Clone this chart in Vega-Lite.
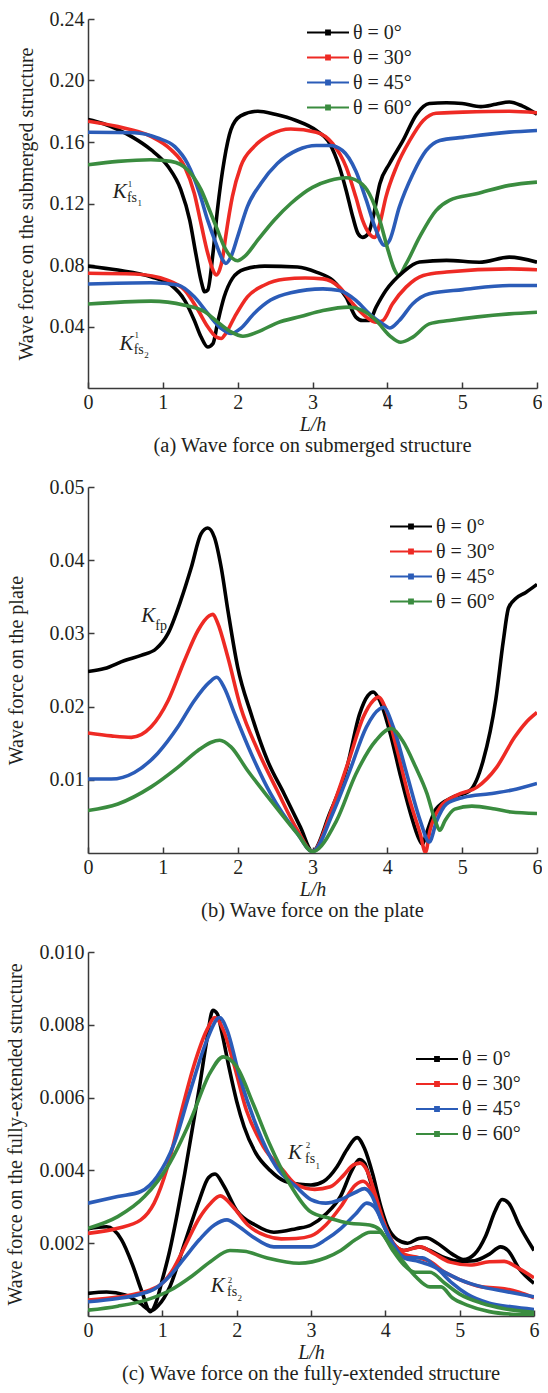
{
"$schema":"https://vega.github.io/schema/vega-lite/v6.json",
"background":"white",
"padding":{"left":5,"top":9,"right":0,"bottom":0},
"spacing":20,
"config":{
 "font":"Liberation Serif",
 "view":{"stroke":null},
 "axis":{"labelFont":"Liberation Serif","labelFontSize":20,"labelColor":"#231f20","titleFont":"Liberation Serif","titleFontSize":20,"titleFontWeight":"normal","titleColor":"#231f20","domainColor":"#3a3a3a","domainWidth":1.5,"tickColor":"#3a3a3a","tickWidth":1.5,"tickSize":-6,"grid":false,"labelPadding":10,"labelFlush":false},
 "legend":{"labelFont":"Liberation Serif","labelFontSize":20,"labelColor":"#231f20","symbolSize":400,"symbolStrokeWidth":1.8,"rowPadding":4.0,"labelOffset":14,"padding":0,"orient":"none"},
 "title":{"font":"Liberation Serif","fontSize":20.5,"fontWeight":"normal","color":"#231f20"}
},
"resolve":{"scale":{"color":"independent"},"legend":{"color":"independent"}},
"datasets":{
"a":[
{"L":0,"F":0.1746,"t":"θ = 0°","c":"1"},{"L":0.2,"F":0.172,"t":"θ = 0°","c":"1"},{"L":0.4,"F":0.168,"t":"θ = 0°","c":"1"},{"L":0.6,"F":0.163,"t":"θ = 0°","c":"1"},{"L":0.84,"F":0.155,"t":"θ = 0°","c":"1"},{"L":1.07,"F":0.144,"t":"θ = 0°","c":"1"},{"L":1.24,"F":0.129,"t":"θ = 0°","c":"1"},{"L":1.36,"F":0.109,"t":"θ = 0°","c":"1"},{"L":1.44,"F":0.0876,"t":"θ = 0°","c":"1"},{"L":1.51,"F":0.07,"t":"θ = 0°","c":"1"},{"L":1.56,"F":0.0626,"t":"θ = 0°","c":"1"},{"L":1.6,"F":0.0637,"t":"θ = 0°","c":"1"},{"L":1.67,"F":0.0876,"t":"θ = 0°","c":"1"},{"L":1.73,"F":0.116,"t":"θ = 0°","c":"1"},{"L":1.82,"F":0.148,"t":"θ = 0°","c":"1"},{"L":1.91,"F":0.168,"t":"θ = 0°","c":"1"},{"L":2.04,"F":0.177,"t":"θ = 0°","c":"1"},{"L":2.27,"F":0.18,"t":"θ = 0°","c":"1"},{"L":2.5,"F":0.178,"t":"θ = 0°","c":"1"},{"L":2.78,"F":0.174,"t":"θ = 0°","c":"1"},{"L":3.05,"F":0.1675,"t":"θ = 0°","c":"1"},{"L":3.23,"F":0.159,"t":"θ = 0°","c":"1"},{"L":3.36,"F":0.1437,"t":"θ = 0°","c":"1"},{"L":3.45,"F":0.1285,"t":"θ = 0°","c":"1"},{"L":3.54,"F":0.111,"t":"θ = 0°","c":"1"},{"L":3.61,"F":0.1003,"t":"θ = 0°","c":"1"},{"L":3.67,"F":0.098,"t":"θ = 0°","c":"1"},{"L":3.74,"F":0.1,"t":"θ = 0°","c":"1"},{"L":3.81,"F":0.111,"t":"θ = 0°","c":"1"},{"L":3.9,"F":0.1328,"t":"θ = 0°","c":"1"},{"L":4.03,"F":0.146,"t":"θ = 0°","c":"1"},{"L":4.21,"F":0.161,"t":"θ = 0°","c":"1"},{"L":4.39,"F":0.178,"t":"θ = 0°","c":"1"},{"L":4.56,"F":0.185,"t":"θ = 0°","c":"1"},{"L":4.79,"F":0.1855,"t":"θ = 0°","c":"1"},{"L":5.0,"F":0.185,"t":"θ = 0°","c":"1"},{"L":5.25,"F":0.183,"t":"θ = 0°","c":"1"},{"L":5.45,"F":0.1845,"t":"θ = 0°","c":"1"},{"L":5.63,"F":0.186,"t":"θ = 0°","c":"1"},{"L":5.8,"F":0.1835,"t":"θ = 0°","c":"1"},{"L":6,"F":0.178,"t":"θ = 0°","c":"1"},
{"L":0,"F":0.1735,"t":"θ = 30°","c":"1"},{"L":0.4,"F":0.17,"t":"θ = 30°","c":"1"},{"L":0.84,"F":0.1637,"t":"θ = 30°","c":"1"},{"L":1.11,"F":0.155,"t":"θ = 30°","c":"1"},{"L":1.29,"F":0.144,"t":"θ = 30°","c":"1"},{"L":1.42,"F":0.1267,"t":"θ = 30°","c":"1"},{"L":1.51,"F":0.107,"t":"θ = 30°","c":"1"},{"L":1.6,"F":0.0876,"t":"θ = 30°","c":"1"},{"L":1.67,"F":0.0767,"t":"θ = 30°","c":"1"},{"L":1.71,"F":0.0735,"t":"θ = 30°","c":"1"},{"L":1.76,"F":0.077,"t":"θ = 30°","c":"1"},{"L":1.8,"F":0.085,"t":"θ = 30°","c":"1"},{"L":1.84,"F":0.0985,"t":"θ = 30°","c":"1"},{"L":1.93,"F":0.1246,"t":"θ = 30°","c":"1"},{"L":2.04,"F":0.144,"t":"θ = 30°","c":"1"},{"L":2.22,"F":0.157,"t":"θ = 30°","c":"1"},{"L":2.44,"F":0.165,"t":"θ = 30°","c":"1"},{"L":2.71,"F":0.1685,"t":"θ = 30°","c":"1"},{"L":3.05,"F":0.1664,"t":"θ = 30°","c":"1"},{"L":3.27,"F":0.159,"t":"θ = 30°","c":"1"},{"L":3.45,"F":0.1437,"t":"θ = 30°","c":"1"},{"L":3.58,"F":0.124,"t":"θ = 30°","c":"1"},{"L":3.67,"F":0.109,"t":"θ = 30°","c":"1"},{"L":3.76,"F":0.1003,"t":"θ = 30°","c":"1"},{"L":3.83,"F":0.098,"t":"θ = 30°","c":"1"},{"L":3.9,"F":0.107,"t":"θ = 30°","c":"1"},{"L":3.98,"F":0.124,"t":"θ = 30°","c":"1"},{"L":4.12,"F":0.1437,"t":"θ = 30°","c":"1"},{"L":4.3,"F":0.161,"t":"θ = 30°","c":"1"},{"L":4.48,"F":0.174,"t":"θ = 30°","c":"1"},{"L":4.65,"F":0.1787,"t":"θ = 30°","c":"1"},{"L":5.01,"F":0.1794,"t":"θ = 30°","c":"1"},{"L":5.63,"F":0.18,"t":"θ = 30°","c":"1"},{"L":6,"F":0.179,"t":"θ = 30°","c":"1"},
{"L":0,"F":0.1663,"t":"θ = 45°","c":"1"},{"L":0.62,"F":0.166,"t":"θ = 45°","c":"1"},{"L":0.93,"F":0.1626,"t":"θ = 45°","c":"1"},{"L":1.16,"F":0.157,"t":"θ = 45°","c":"1"},{"L":1.33,"F":0.146,"t":"θ = 45°","c":"1"},{"L":1.49,"F":0.1267,"t":"θ = 45°","c":"1"},{"L":1.6,"F":0.109,"t":"θ = 45°","c":"1"},{"L":1.71,"F":0.094,"t":"θ = 45°","c":"1"},{"L":1.8,"F":0.0833,"t":"θ = 45°","c":"1"},{"L":1.84,"F":0.081,"t":"θ = 45°","c":"1"},{"L":1.91,"F":0.0854,"t":"θ = 45°","c":"1"},{"L":2.0,"F":0.0985,"t":"θ = 45°","c":"1"},{"L":2.13,"F":0.118,"t":"θ = 45°","c":"1"},{"L":2.31,"F":0.133,"t":"θ = 45°","c":"1"},{"L":2.53,"F":0.146,"t":"θ = 45°","c":"1"},{"L":2.8,"F":0.1548,"t":"θ = 45°","c":"1"},{"L":3.05,"F":0.1577,"t":"θ = 45°","c":"1"},{"L":3.23,"F":0.1577,"t":"θ = 45°","c":"1"},{"L":3.4,"F":0.1545,"t":"θ = 45°","c":"1"},{"L":3.58,"F":0.141,"t":"θ = 45°","c":"1"},{"L":3.72,"F":0.122,"t":"θ = 45°","c":"1"},{"L":3.85,"F":0.1025,"t":"θ = 45°","c":"1"},{"L":3.96,"F":0.0928,"t":"θ = 45°","c":"1"},{"L":4.03,"F":0.096,"t":"θ = 45°","c":"1"},{"L":4.16,"F":0.1176,"t":"θ = 45°","c":"1"},{"L":4.34,"F":0.139,"t":"θ = 45°","c":"1"},{"L":4.52,"F":0.1545,"t":"θ = 45°","c":"1"},{"L":4.7,"F":0.161,"t":"θ = 45°","c":"1"},{"L":5.01,"F":0.163,"t":"θ = 45°","c":"1"},{"L":5.63,"F":0.1664,"t":"θ = 45°","c":"1"},{"L":6,"F":0.1675,"t":"θ = 45°","c":"1"},
{"L":0,"F":0.1452,"t":"θ = 60°","c":"1"},{"L":0.4,"F":0.1474,"t":"θ = 60°","c":"1"},{"L":0.84,"F":0.1485,"t":"θ = 60°","c":"1"},{"L":1.11,"F":0.1474,"t":"θ = 60°","c":"1"},{"L":1.33,"F":0.142,"t":"θ = 60°","c":"1"},{"L":1.51,"F":0.129,"t":"θ = 60°","c":"1"},{"L":1.64,"F":0.1137,"t":"θ = 60°","c":"1"},{"L":1.73,"F":0.1028,"t":"θ = 60°","c":"1"},{"L":1.82,"F":0.092,"t":"θ = 60°","c":"1"},{"L":1.93,"F":0.0843,"t":"θ = 60°","c":"1"},{"L":2.0,"F":0.0828,"t":"θ = 60°","c":"1"},{"L":2.09,"F":0.0854,"t":"θ = 60°","c":"1"},{"L":2.27,"F":0.0963,"t":"θ = 60°","c":"1"},{"L":2.49,"F":0.1093,"t":"θ = 60°","c":"1"},{"L":2.71,"F":0.12,"t":"θ = 60°","c":"1"},{"L":3.0,"F":0.1305,"t":"θ = 60°","c":"1"},{"L":3.23,"F":0.1349,"t":"θ = 60°","c":"1"},{"L":3.45,"F":0.1367,"t":"θ = 60°","c":"1"},{"L":3.63,"F":0.1338,"t":"θ = 60°","c":"1"},{"L":3.76,"F":0.1263,"t":"θ = 60°","c":"1"},{"L":3.9,"F":0.1089,"t":"θ = 60°","c":"1"},{"L":4.01,"F":0.0895,"t":"θ = 60°","c":"1"},{"L":4.1,"F":0.0765,"t":"θ = 60°","c":"1"},{"L":4.15,"F":0.0732,"t":"θ = 60°","c":"1"},{"L":4.25,"F":0.0807,"t":"θ = 60°","c":"1"},{"L":4.43,"F":0.0981,"t":"θ = 60°","c":"1"},{"L":4.65,"F":0.1154,"t":"θ = 60°","c":"1"},{"L":4.83,"F":0.122,"t":"θ = 60°","c":"1"},{"L":5.19,"F":0.1263,"t":"θ = 60°","c":"1"},{"L":5.63,"F":0.1318,"t":"θ = 60°","c":"1"},{"L":6,"F":0.1339,"t":"θ = 60°","c":"1"},
{"L":0,"F":0.0793,"t":"θ = 0°","c":"2"},{"L":0.4,"F":0.0767,"t":"θ = 0°","c":"2"},{"L":0.84,"F":0.0724,"t":"θ = 0°","c":"2"},{"L":1.11,"F":0.067,"t":"θ = 0°","c":"2"},{"L":1.29,"F":0.0572,"t":"θ = 0°","c":"2"},{"L":1.42,"F":0.0441,"t":"θ = 0°","c":"2"},{"L":1.51,"F":0.0333,"t":"θ = 0°","c":"2"},{"L":1.6,"F":0.0267,"t":"θ = 0°","c":"2"},{"L":1.67,"F":0.0289,"t":"θ = 0°","c":"2"},{"L":1.73,"F":0.042,"t":"θ = 0°","c":"2"},{"L":1.82,"F":0.0593,"t":"θ = 0°","c":"2"},{"L":1.93,"F":0.0713,"t":"θ = 0°","c":"2"},{"L":2.09,"F":0.0772,"t":"θ = 0°","c":"2"},{"L":2.36,"F":0.0793,"t":"θ = 0°","c":"2"},{"L":2.8,"F":0.0787,"t":"θ = 0°","c":"2"},{"L":3.05,"F":0.0754,"t":"θ = 0°","c":"2"},{"L":3.27,"F":0.07,"t":"θ = 0°","c":"2"},{"L":3.45,"F":0.059,"t":"θ = 0°","c":"2"},{"L":3.58,"F":0.0461,"t":"θ = 0°","c":"2"},{"L":3.67,"F":0.0439,"t":"θ = 0°","c":"2"},{"L":3.76,"F":0.0439,"t":"θ = 0°","c":"2"},{"L":3.85,"F":0.0526,"t":"θ = 0°","c":"2"},{"L":3.98,"F":0.0634,"t":"θ = 0°","c":"2"},{"L":4.21,"F":0.0754,"t":"θ = 0°","c":"2"},{"L":4.43,"F":0.0819,"t":"θ = 0°","c":"2"},{"L":4.79,"F":0.083,"t":"θ = 0°","c":"2"},{"L":5.23,"F":0.0818,"t":"θ = 0°","c":"2"},{"L":5.63,"F":0.0851,"t":"θ = 0°","c":"2"},{"L":6,"F":0.0818,"t":"θ = 0°","c":"2"},
{"L":0,"F":0.0746,"t":"θ = 30°","c":"2"},{"L":0.62,"F":0.0741,"t":"θ = 30°","c":"2"},{"L":1.07,"F":0.07,"t":"θ = 30°","c":"2"},{"L":1.29,"F":0.0637,"t":"θ = 30°","c":"2"},{"L":1.47,"F":0.0507,"t":"θ = 30°","c":"2"},{"L":1.6,"F":0.0398,"t":"θ = 30°","c":"2"},{"L":1.71,"F":0.0333,"t":"θ = 30°","c":"2"},{"L":1.78,"F":0.0322,"t":"θ = 30°","c":"2"},{"L":1.84,"F":0.0354,"t":"θ = 30°","c":"2"},{"L":1.96,"F":0.0463,"t":"θ = 30°","c":"2"},{"L":2.13,"F":0.0593,"t":"θ = 30°","c":"2"},{"L":2.36,"F":0.067,"t":"θ = 30°","c":"2"},{"L":2.62,"F":0.0707,"t":"θ = 30°","c":"2"},{"L":2.9,"F":0.0715,"t":"θ = 30°","c":"2"},{"L":3.14,"F":0.071,"t":"θ = 30°","c":"2"},{"L":3.36,"F":0.0656,"t":"θ = 30°","c":"2"},{"L":3.54,"F":0.0548,"t":"θ = 30°","c":"2"},{"L":3.72,"F":0.0461,"t":"θ = 30°","c":"2"},{"L":3.85,"F":0.0428,"t":"θ = 30°","c":"2"},{"L":3.94,"F":0.0439,"t":"θ = 30°","c":"2"},{"L":4.07,"F":0.0548,"t":"θ = 30°","c":"2"},{"L":4.25,"F":0.0656,"t":"θ = 30°","c":"2"},{"L":4.48,"F":0.0732,"t":"θ = 30°","c":"2"},{"L":4.79,"F":0.0754,"t":"θ = 30°","c":"2"},{"L":5.63,"F":0.0775,"t":"θ = 30°","c":"2"},{"L":6,"F":0.0769,"t":"θ = 30°","c":"2"},
{"L":0,"F":0.0676,"t":"θ = 45°","c":"2"},{"L":0.84,"F":0.0685,"t":"θ = 45°","c":"2"},{"L":1.2,"F":0.067,"t":"θ = 45°","c":"2"},{"L":1.42,"F":0.0593,"t":"θ = 45°","c":"2"},{"L":1.6,"F":0.0485,"t":"θ = 45°","c":"2"},{"L":1.78,"F":0.0387,"t":"θ = 45°","c":"2"},{"L":1.91,"F":0.0354,"t":"θ = 45°","c":"2"},{"L":2.04,"F":0.0387,"t":"θ = 45°","c":"2"},{"L":2.22,"F":0.0485,"t":"θ = 45°","c":"2"},{"L":2.44,"F":0.0572,"t":"θ = 45°","c":"2"},{"L":2.71,"F":0.062,"t":"θ = 45°","c":"2"},{"L":3.14,"F":0.0645,"t":"θ = 45°","c":"2"},{"L":3.36,"F":0.0634,"t":"θ = 45°","c":"2"},{"L":3.58,"F":0.057,"t":"θ = 45°","c":"2"},{"L":3.76,"F":0.0483,"t":"θ = 45°","c":"2"},{"L":3.94,"F":0.0417,"t":"θ = 45°","c":"2"},{"L":4.03,"F":0.039,"t":"θ = 45°","c":"2"},{"L":4.16,"F":0.0439,"t":"θ = 45°","c":"2"},{"L":4.34,"F":0.0548,"t":"θ = 45°","c":"2"},{"L":4.56,"F":0.0613,"t":"θ = 45°","c":"2"},{"L":5.01,"F":0.064,"t":"θ = 45°","c":"2"},{"L":5.63,"F":0.0667,"t":"θ = 45°","c":"2"},{"L":6,"F":0.0667,"t":"θ = 45°","c":"2"},
{"L":0,"F":0.0546,"t":"θ = 60°","c":"2"},{"L":0.84,"F":0.0565,"t":"θ = 60°","c":"2"},{"L":1.29,"F":0.0539,"t":"θ = 60°","c":"2"},{"L":1.56,"F":0.0496,"t":"θ = 60°","c":"2"},{"L":1.73,"F":0.043,"t":"θ = 60°","c":"2"},{"L":1.91,"F":0.0365,"t":"θ = 60°","c":"2"},{"L":2.07,"F":0.0337,"t":"θ = 60°","c":"2"},{"L":2.27,"F":0.0365,"t":"θ = 60°","c":"2"},{"L":2.53,"F":0.0424,"t":"θ = 60°","c":"2"},{"L":2.84,"F":0.0465,"t":"θ = 60°","c":"2"},{"L":3.14,"F":0.0504,"t":"θ = 60°","c":"2"},{"L":3.49,"F":0.0526,"t":"θ = 60°","c":"2"},{"L":3.67,"F":0.0504,"t":"θ = 60°","c":"2"},{"L":3.85,"F":0.0439,"t":"θ = 60°","c":"2"},{"L":4.03,"F":0.0341,"t":"θ = 60°","c":"2"},{"L":4.18,"F":0.0298,"t":"θ = 60°","c":"2"},{"L":4.34,"F":0.0331,"t":"θ = 60°","c":"2"},{"L":4.56,"F":0.0417,"t":"θ = 60°","c":"2"},{"L":4.83,"F":0.0439,"t":"θ = 60°","c":"2"},{"L":5.63,"F":0.0482,"t":"θ = 60°","c":"2"},{"L":6,"F":0.0493,"t":"θ = 60°","c":"2"}
],
"b":[
{"L":0,"F":0.0248,"t":"θ = 0°"},{"L":0.22,"F":0.0252,"t":"θ = 0°"},{"L":0.49,"F":0.0263,"t":"θ = 0°"},{"L":0.71,"F":0.027,"t":"θ = 0°"},{"L":0.91,"F":0.0279,"t":"θ = 0°"},{"L":1.07,"F":0.03,"t":"θ = 0°"},{"L":1.24,"F":0.0345,"t":"θ = 0°"},{"L":1.38,"F":0.039,"t":"θ = 0°"},{"L":1.51,"F":0.0436,"t":"θ = 0°"},{"L":1.6,"F":0.0444,"t":"θ = 0°"},{"L":1.69,"F":0.0431,"t":"θ = 0°"},{"L":1.78,"F":0.039,"t":"θ = 0°"},{"L":1.87,"F":0.0331,"t":"θ = 0°"},{"L":2.0,"F":0.0254,"t":"θ = 0°"},{"L":2.18,"F":0.019,"t":"θ = 0°"},{"L":2.4,"F":0.0126,"t":"θ = 0°"},{"L":2.62,"F":0.0081,"t":"θ = 0°"},{"L":2.84,"F":0.0035,"t":"θ = 0°"},{"L":3.0,"F":0.0002,"t":"θ = 0°"},{"L":3.23,"F":0.0054,"t":"θ = 0°"},{"L":3.46,"F":0.0117,"t":"θ = 0°"},{"L":3.63,"F":0.019,"t":"θ = 0°"},{"L":3.74,"F":0.0215,"t":"θ = 0°"},{"L":3.81,"F":0.022,"t":"θ = 0°"},{"L":3.9,"F":0.0208,"t":"θ = 0°"},{"L":4.04,"F":0.0163,"t":"θ = 0°"},{"L":4.17,"F":0.0108,"t":"θ = 0°"},{"L":4.31,"F":0.0054,"t":"θ = 0°"},{"L":4.42,"F":0.002,"t":"θ = 0°"},{"L":4.47,"F":0.0012,"t":"θ = 0°"},{"L":4.52,"F":0.0026,"t":"θ = 0°"},{"L":4.65,"F":0.006,"t":"θ = 0°"},{"L":4.87,"F":0.0076,"t":"θ = 0°"},{"L":5.1,"F":0.0085,"t":"θ = 0°"},{"L":5.28,"F":0.0126,"t":"θ = 0°"},{"L":5.45,"F":0.021,"t":"θ = 0°"},{"L":5.55,"F":0.029,"t":"θ = 0°"},{"L":5.62,"F":0.0335,"t":"θ = 0°"},{"L":5.72,"F":0.0348,"t":"θ = 0°"},{"L":5.85,"F":0.0356,"t":"θ = 0°"},{"L":6,"F":0.0367,"t":"θ = 0°"},
{"L":0,"F":0.0164,"t":"θ = 30°"},{"L":0.31,"F":0.016,"t":"θ = 30°"},{"L":0.58,"F":0.0158,"t":"θ = 30°"},{"L":0.84,"F":0.0172,"t":"θ = 30°"},{"L":1.07,"F":0.0208,"t":"θ = 30°"},{"L":1.29,"F":0.0263,"t":"θ = 30°"},{"L":1.47,"F":0.0304,"t":"θ = 30°"},{"L":1.62,"F":0.0324,"t":"θ = 30°"},{"L":1.67,"F":0.0326,"t":"θ = 30°"},{"L":1.73,"F":0.0315,"t":"θ = 30°"},{"L":1.87,"F":0.0267,"t":"θ = 30°"},{"L":2.04,"F":0.0199,"t":"θ = 30°"},{"L":2.27,"F":0.014,"t":"θ = 30°"},{"L":2.53,"F":0.0085,"t":"θ = 30°"},{"L":2.8,"F":0.0031,"t":"θ = 30°"},{"L":3.0,"F":0.0002,"t":"θ = 30°"},{"L":3.27,"F":0.0063,"t":"θ = 30°"},{"L":3.5,"F":0.0131,"t":"θ = 30°"},{"L":3.68,"F":0.0186,"t":"θ = 30°"},{"L":3.81,"F":0.0208,"t":"θ = 30°"},{"L":3.88,"F":0.0213,"t":"θ = 30°"},{"L":3.97,"F":0.0199,"t":"θ = 30°"},{"L":4.12,"F":0.0145,"t":"θ = 30°"},{"L":4.3,"F":0.0072,"t":"θ = 30°"},{"L":4.44,"F":0.0026,"t":"θ = 30°"},{"L":4.51,"F":0.0001,"t":"θ = 30°"},{"L":4.57,"F":0.0031,"t":"θ = 30°"},{"L":4.71,"F":0.0063,"t":"θ = 30°"},{"L":4.93,"F":0.0079,"t":"θ = 30°"},{"L":5.2,"F":0.009,"t":"θ = 30°"},{"L":5.46,"F":0.0117,"t":"θ = 30°"},{"L":5.7,"F":0.0158,"t":"θ = 30°"},{"L":5.85,"F":0.0178,"t":"θ = 30°"},{"L":6,"F":0.0192,"t":"θ = 30°"},
{"L":0,"F":0.0101,"t":"θ = 45°"},{"L":0.31,"F":0.0101,"t":"θ = 45°"},{"L":0.62,"F":0.011,"t":"θ = 45°"},{"L":0.93,"F":0.0136,"t":"θ = 45°"},{"L":1.2,"F":0.0172,"t":"θ = 45°"},{"L":1.42,"F":0.0208,"t":"θ = 45°"},{"L":1.62,"F":0.0233,"t":"θ = 45°"},{"L":1.72,"F":0.024,"t":"θ = 45°"},{"L":1.82,"F":0.0226,"t":"θ = 45°"},{"L":1.96,"F":0.019,"t":"θ = 45°"},{"L":2.18,"F":0.0136,"t":"θ = 45°"},{"L":2.44,"F":0.0081,"t":"θ = 45°"},{"L":2.8,"F":0.0026,"t":"θ = 45°"},{"L":3.0,"F":0.0002,"t":"θ = 45°"},{"L":3.27,"F":0.0054,"t":"θ = 45°"},{"L":3.5,"F":0.0113,"t":"θ = 45°"},{"L":3.72,"F":0.0172,"t":"θ = 45°"},{"L":3.9,"F":0.0197,"t":"θ = 45°"},{"L":3.95,"F":0.0199,"t":"θ = 45°"},{"L":4.08,"F":0.0172,"t":"θ = 45°"},{"L":4.26,"F":0.0108,"t":"θ = 45°"},{"L":4.44,"F":0.0044,"t":"θ = 45°"},{"L":4.56,"F":0.0015,"t":"θ = 45°"},{"L":4.66,"F":0.0044,"t":"θ = 45°"},{"L":4.79,"F":0.0067,"t":"θ = 45°"},{"L":5.02,"F":0.0076,"t":"θ = 45°"},{"L":5.37,"F":0.0081,"t":"θ = 45°"},{"L":5.67,"F":0.0086,"t":"θ = 45°"},{"L":6,"F":0.0095,"t":"θ = 45°"},
{"L":0,"F":0.0058,"t":"θ = 60°"},{"L":0.4,"F":0.0067,"t":"θ = 60°"},{"L":0.84,"F":0.009,"t":"θ = 60°"},{"L":1.2,"F":0.0117,"t":"θ = 60°"},{"L":1.47,"F":0.014,"t":"θ = 60°"},{"L":1.64,"F":0.0151,"t":"θ = 60°"},{"L":1.76,"F":0.0154,"t":"θ = 60°"},{"L":1.91,"F":0.0145,"t":"θ = 60°"},{"L":2.13,"F":0.0113,"t":"θ = 60°"},{"L":2.44,"F":0.0072,"t":"θ = 60°"},{"L":2.8,"F":0.0026,"t":"θ = 60°"},{"L":3.0,"F":0.0002,"t":"θ = 60°"},{"L":3.32,"F":0.0044,"t":"θ = 60°"},{"L":3.58,"F":0.0108,"t":"θ = 60°"},{"L":3.85,"F":0.0154,"t":"θ = 60°"},{"L":4.05,"F":0.017,"t":"θ = 60°"},{"L":4.2,"F":0.0154,"t":"θ = 60°"},{"L":4.38,"F":0.0117,"t":"θ = 60°"},{"L":4.53,"F":0.0081,"t":"θ = 60°"},{"L":4.64,"F":0.0044,"t":"θ = 60°"},{"L":4.7,"F":0.0031,"t":"θ = 60°"},{"L":4.77,"F":0.0044,"t":"θ = 60°"},{"L":4.9,"F":0.006,"t":"θ = 60°"},{"L":5.13,"F":0.0064,"t":"θ = 60°"},{"L":5.44,"F":0.006,"t":"θ = 60°"},{"L":5.65,"F":0.0056,"t":"θ = 60°"},{"L":6,"F":0.0054,"t":"θ = 60°"}
],
"c":[
{"L":0,"F":0.0024,"t":"θ = 0°","c":"1"},{"L":0.25,"F":0.00245,"t":"θ = 0°","c":"1"},{"L":0.45,"F":0.0021,"t":"θ = 0°","c":"1"},{"L":0.6,"F":0.0014,"t":"θ = 0°","c":"1"},{"L":0.72,"F":0.0007,"t":"θ = 0°","c":"1"},{"L":0.84,"F":0.00012,"t":"θ = 0°","c":"1"},{"L":0.92,"F":0.0004,"t":"θ = 0°","c":"1"},{"L":1.0,"F":0.001,"t":"θ = 0°","c":"1"},{"L":1.1,"F":0.0018,"t":"θ = 0°","c":"1"},{"L":1.2,"F":0.0028,"t":"θ = 0°","c":"1"},{"L":1.3,"F":0.0039,"t":"θ = 0°","c":"1"},{"L":1.4,"F":0.0051,"t":"θ = 0°","c":"1"},{"L":1.5,"F":0.0063,"t":"θ = 0°","c":"1"},{"L":1.6,"F":0.0076,"t":"θ = 0°","c":"1"},{"L":1.68,"F":0.0084,"t":"θ = 0°","c":"1"},{"L":1.74,"F":0.0083,"t":"θ = 0°","c":"1"},{"L":1.8,"F":0.0078,"t":"θ = 0°","c":"1"},{"L":1.9,"F":0.0068,"t":"θ = 0°","c":"1"},{"L":2.0,"F":0.0059,"t":"θ = 0°","c":"1"},{"L":2.1,"F":0.0052,"t":"θ = 0°","c":"1"},{"L":2.25,"F":0.0045,"t":"θ = 0°","c":"1"},{"L":2.45,"F":0.004,"t":"θ = 0°","c":"1"},{"L":2.65,"F":0.0037,"t":"θ = 0°","c":"1"},{"L":2.85,"F":0.00362,"t":"θ = 0°","c":"1"},{"L":3.0,"F":0.0036,"t":"θ = 0°","c":"1"},{"L":3.17,"F":0.0037,"t":"θ = 0°","c":"1"},{"L":3.35,"F":0.0041,"t":"θ = 0°","c":"1"},{"L":3.48,"F":0.00456,"t":"θ = 0°","c":"1"},{"L":3.62,"F":0.0049,"t":"θ = 0°","c":"1"},{"L":3.72,"F":0.0046,"t":"θ = 0°","c":"1"},{"L":3.83,"F":0.0039,"t":"θ = 0°","c":"1"},{"L":3.94,"F":0.003,"t":"θ = 0°","c":"1"},{"L":4.03,"F":0.00245,"t":"θ = 0°","c":"1"},{"L":4.16,"F":0.0021,"t":"θ = 0°","c":"1"},{"L":4.3,"F":0.002,"t":"θ = 0°","c":"1"},{"L":4.45,"F":0.00213,"t":"θ = 0°","c":"1"},{"L":4.55,"F":0.00215,"t":"θ = 0°","c":"1"},{"L":4.7,"F":0.002,"t":"θ = 0°","c":"1"},{"L":4.9,"F":0.0017,"t":"θ = 0°","c":"1"},{"L":5.05,"F":0.00155,"t":"θ = 0°","c":"1"},{"L":5.2,"F":0.0017,"t":"θ = 0°","c":"1"},{"L":5.35,"F":0.0022,"t":"θ = 0°","c":"1"},{"L":5.48,"F":0.0029,"t":"θ = 0°","c":"1"},{"L":5.57,"F":0.0032,"t":"θ = 0°","c":"1"},{"L":5.66,"F":0.0031,"t":"θ = 0°","c":"1"},{"L":5.8,"F":0.0025,"t":"θ = 0°","c":"1"},{"L":6,"F":0.0018,"t":"θ = 0°","c":"1"},
{"L":0,"F":0.00062,"t":"θ = 0°","c":"2"},{"L":0.25,"F":0.00066,"t":"θ = 0°","c":"2"},{"L":0.5,"F":0.00058,"t":"θ = 0°","c":"2"},{"L":0.7,"F":0.00035,"t":"θ = 0°","c":"2"},{"L":0.85,"F":0.00015,"t":"θ = 0°","c":"2"},{"L":0.95,"F":0.0003,"t":"θ = 0°","c":"2"},{"L":1.1,"F":0.0008,"t":"θ = 0°","c":"2"},{"L":1.3,"F":0.002,"t":"θ = 0°","c":"2"},{"L":1.5,"F":0.0032,"t":"θ = 0°","c":"2"},{"L":1.62,"F":0.0038,"t":"θ = 0°","c":"2"},{"L":1.71,"F":0.0039,"t":"θ = 0°","c":"2"},{"L":1.82,"F":0.0036,"t":"θ = 0°","c":"2"},{"L":2.0,"F":0.0029,"t":"θ = 0°","c":"2"},{"L":2.25,"F":0.0025,"t":"θ = 0°","c":"2"},{"L":2.5,"F":0.0023,"t":"θ = 0°","c":"2"},{"L":2.8,"F":0.0024,"t":"θ = 0°","c":"2"},{"L":3.0,"F":0.0025,"t":"θ = 0°","c":"2"},{"L":3.2,"F":0.0028,"t":"θ = 0°","c":"2"},{"L":3.4,"F":0.0033,"t":"θ = 0°","c":"2"},{"L":3.55,"F":0.004,"t":"θ = 0°","c":"2"},{"L":3.65,"F":0.0043,"t":"θ = 0°","c":"2"},{"L":3.72,"F":0.0042,"t":"θ = 0°","c":"2"},{"L":3.8,"F":0.0037,"t":"θ = 0°","c":"2"},{"L":3.9,"F":0.003,"t":"θ = 0°","c":"2"},{"L":4.0,"F":0.0024,"t":"θ = 0°","c":"2"},{"L":4.1,"F":0.002,"t":"θ = 0°","c":"2"},{"L":4.25,"F":0.0018,"t":"θ = 0°","c":"2"},{"L":4.45,"F":0.0019,"t":"θ = 0°","c":"2"},{"L":4.6,"F":0.0018,"t":"θ = 0°","c":"2"},{"L":4.8,"F":0.0016,"t":"θ = 0°","c":"2"},{"L":5.0,"F":0.0015,"t":"θ = 0°","c":"2"},{"L":5.2,"F":0.00152,"t":"θ = 0°","c":"2"},{"L":5.4,"F":0.0017,"t":"θ = 0°","c":"2"},{"L":5.55,"F":0.0019,"t":"θ = 0°","c":"2"},{"L":5.65,"F":0.0018,"t":"θ = 0°","c":"2"},{"L":5.8,"F":0.0013,"t":"θ = 0°","c":"2"},{"L":6,"F":0.0009,"t":"θ = 0°","c":"2"},
{"L":0,"F":0.00227,"t":"θ = 30°","c":"1"},{"L":0.4,"F":0.00241,"t":"θ = 30°","c":"1"},{"L":0.71,"F":0.00264,"t":"θ = 30°","c":"1"},{"L":0.89,"F":0.0031,"t":"θ = 30°","c":"1"},{"L":1.07,"F":0.0041,"t":"θ = 30°","c":"1"},{"L":1.24,"F":0.00548,"t":"θ = 30°","c":"1"},{"L":1.42,"F":0.00685,"t":"θ = 30°","c":"1"},{"L":1.6,"F":0.00786,"t":"θ = 30°","c":"1"},{"L":1.71,"F":0.0082,"t":"θ = 30°","c":"1"},{"L":1.82,"F":0.00786,"t":"θ = 30°","c":"1"},{"L":1.96,"F":0.00694,"t":"θ = 30°","c":"1"},{"L":2.13,"F":0.00566,"t":"θ = 30°","c":"1"},{"L":2.36,"F":0.00465,"t":"θ = 30°","c":"1"},{"L":2.62,"F":0.00401,"t":"θ = 30°","c":"1"},{"L":2.81,"F":0.0036,"t":"θ = 30°","c":"1"},{"L":3.05,"F":0.00348,"t":"θ = 30°","c":"1"},{"L":3.26,"F":0.00355,"t":"θ = 30°","c":"1"},{"L":3.44,"F":0.00387,"t":"θ = 30°","c":"1"},{"L":3.57,"F":0.00415,"t":"θ = 30°","c":"1"},{"L":3.66,"F":0.0042,"t":"θ = 30°","c":"1"},{"L":3.75,"F":0.00401,"t":"θ = 30°","c":"1"},{"L":3.86,"F":0.00337,"t":"θ = 30°","c":"1"},{"L":3.97,"F":0.00264,"t":"θ = 30°","c":"1"},{"L":4.11,"F":0.002,"t":"θ = 30°","c":"1"},{"L":4.25,"F":0.0018,"t":"θ = 30°","c":"1"},{"L":4.47,"F":0.0019,"t":"θ = 30°","c":"1"},{"L":4.65,"F":0.00172,"t":"θ = 30°","c":"1"},{"L":4.87,"F":0.00148,"t":"θ = 30°","c":"1"},{"L":5.14,"F":0.0014,"t":"θ = 30°","c":"1"},{"L":5.4,"F":0.00149,"t":"θ = 30°","c":"1"},{"L":5.6,"F":0.0015,"t":"θ = 30°","c":"1"},{"L":5.8,"F":0.0013,"t":"θ = 30°","c":"1"},{"L":6,"F":0.00105,"t":"θ = 30°","c":"1"},
{"L":0,"F":0.00044,"t":"θ = 30°","c":"2"},{"L":0.4,"F":0.00052,"t":"θ = 30°","c":"2"},{"L":0.7,"F":0.00063,"t":"θ = 30°","c":"2"},{"L":0.84,"F":0.00072,"t":"θ = 30°","c":"2"},{"L":1.0,"F":0.0009,"t":"θ = 30°","c":"2"},{"L":1.15,"F":0.0013,"t":"θ = 30°","c":"2"},{"L":1.3,"F":0.0019,"t":"θ = 30°","c":"2"},{"L":1.5,"F":0.0027,"t":"θ = 30°","c":"2"},{"L":1.65,"F":0.0031,"t":"θ = 30°","c":"2"},{"L":1.78,"F":0.0033,"t":"θ = 30°","c":"2"},{"L":1.95,"F":0.003,"t":"θ = 30°","c":"2"},{"L":2.15,"F":0.0025,"t":"θ = 30°","c":"2"},{"L":2.4,"F":0.0022,"t":"θ = 30°","c":"2"},{"L":2.6,"F":0.00212,"t":"θ = 30°","c":"2"},{"L":2.8,"F":0.00213,"t":"θ = 30°","c":"2"},{"L":3.0,"F":0.0022,"t":"θ = 30°","c":"2"},{"L":3.2,"F":0.0025,"t":"θ = 30°","c":"2"},{"L":3.4,"F":0.003,"t":"θ = 30°","c":"2"},{"L":3.6,"F":0.0036,"t":"θ = 30°","c":"2"},{"L":3.7,"F":0.0037,"t":"θ = 30°","c":"2"},{"L":3.8,"F":0.0035,"t":"θ = 30°","c":"2"},{"L":3.95,"F":0.0027,"t":"θ = 30°","c":"2"},{"L":4.1,"F":0.002,"t":"θ = 30°","c":"2"},{"L":4.25,"F":0.0017,"t":"θ = 30°","c":"2"},{"L":4.45,"F":0.0016,"t":"θ = 30°","c":"2"},{"L":4.6,"F":0.0015,"t":"θ = 30°","c":"2"},{"L":4.8,"F":0.0012,"t":"θ = 30°","c":"2"},{"L":5.0,"F":0.001,"t":"θ = 30°","c":"2"},{"L":5.3,"F":0.0008,"t":"θ = 30°","c":"2"},{"L":5.6,"F":0.00075,"t":"θ = 30°","c":"2"},{"L":5.8,"F":0.00065,"t":"θ = 30°","c":"2"},{"L":6,"F":0.0005,"t":"θ = 30°","c":"2"},
{"L":0,"F":0.0031,"t":"θ = 45°","c":"1"},{"L":0.4,"F":0.00328,"t":"θ = 45°","c":"1"},{"L":0.71,"F":0.00342,"t":"θ = 45°","c":"1"},{"L":0.93,"F":0.00383,"t":"θ = 45°","c":"1"},{"L":1.16,"F":0.00474,"t":"θ = 45°","c":"1"},{"L":1.38,"F":0.00621,"t":"θ = 45°","c":"1"},{"L":1.6,"F":0.00758,"t":"θ = 45°","c":"1"},{"L":1.77,"F":0.0082,"t":"θ = 45°","c":"1"},{"L":1.87,"F":0.00786,"t":"θ = 45°","c":"1"},{"L":2.04,"F":0.00657,"t":"θ = 45°","c":"1"},{"L":2.27,"F":0.0052,"t":"θ = 45°","c":"1"},{"L":2.53,"F":0.0041,"t":"θ = 45°","c":"1"},{"L":2.8,"F":0.00355,"t":"θ = 45°","c":"1"},{"L":3.0,"F":0.0032,"t":"θ = 45°","c":"1"},{"L":3.2,"F":0.0031,"t":"θ = 45°","c":"1"},{"L":3.4,"F":0.0032,"t":"θ = 45°","c":"1"},{"L":3.6,"F":0.0034,"t":"θ = 45°","c":"1"},{"L":3.72,"F":0.0035,"t":"θ = 45°","c":"1"},{"L":3.82,"F":0.0033,"t":"θ = 45°","c":"1"},{"L":3.95,"F":0.0026,"t":"θ = 45°","c":"1"},{"L":4.1,"F":0.002,"t":"θ = 45°","c":"1"},{"L":4.25,"F":0.0016,"t":"θ = 45°","c":"1"},{"L":4.45,"F":0.0015,"t":"θ = 45°","c":"1"},{"L":4.6,"F":0.0014,"t":"θ = 45°","c":"1"},{"L":4.8,"F":0.0012,"t":"θ = 45°","c":"1"},{"L":5.0,"F":0.001,"t":"θ = 45°","c":"1"},{"L":5.3,"F":0.0008,"t":"θ = 45°","c":"1"},{"L":5.6,"F":0.00068,"t":"θ = 45°","c":"1"},{"L":6,"F":0.00053,"t":"θ = 45°","c":"1"},
{"L":0,"F":0.00039,"t":"θ = 45°","c":"2"},{"L":0.4,"F":0.00048,"t":"θ = 45°","c":"2"},{"L":0.7,"F":0.0006,"t":"θ = 45°","c":"2"},{"L":0.9,"F":0.00075,"t":"θ = 45°","c":"2"},{"L":1.1,"F":0.0011,"t":"θ = 45°","c":"2"},{"L":1.3,"F":0.0016,"t":"θ = 45°","c":"2"},{"L":1.5,"F":0.0021,"t":"θ = 45°","c":"2"},{"L":1.7,"F":0.0025,"t":"θ = 45°","c":"2"},{"L":1.87,"F":0.00264,"t":"θ = 45°","c":"2"},{"L":2.0,"F":0.0025,"t":"θ = 45°","c":"2"},{"L":2.2,"F":0.0022,"t":"θ = 45°","c":"2"},{"L":2.5,"F":0.0019,"t":"θ = 45°","c":"2"},{"L":2.8,"F":0.0019,"t":"θ = 45°","c":"2"},{"L":3.0,"F":0.0019,"t":"θ = 45°","c":"2"},{"L":3.2,"F":0.0021,"t":"θ = 45°","c":"2"},{"L":3.4,"F":0.0024,"t":"θ = 45°","c":"2"},{"L":3.6,"F":0.0028,"t":"θ = 45°","c":"2"},{"L":3.75,"F":0.0031,"t":"θ = 45°","c":"2"},{"L":3.85,"F":0.003,"t":"θ = 45°","c":"2"},{"L":4.0,"F":0.0024,"t":"θ = 45°","c":"2"},{"L":4.15,"F":0.0018,"t":"θ = 45°","c":"2"},{"L":4.3,"F":0.0016,"t":"θ = 45°","c":"2"},{"L":4.5,"F":0.0016,"t":"θ = 45°","c":"2"},{"L":4.7,"F":0.0013,"t":"θ = 45°","c":"2"},{"L":4.9,"F":0.0009,"t":"θ = 45°","c":"2"},{"L":5.1,"F":0.0006,"t":"θ = 45°","c":"2"},{"L":5.4,"F":0.00035,"t":"θ = 45°","c":"2"},{"L":5.7,"F":0.00025,"t":"θ = 45°","c":"2"},{"L":6,"F":0.00018,"t":"θ = 45°","c":"2"},
{"L":0,"F":0.00241,"t":"θ = 60°","c":"1"},{"L":0.4,"F":0.00273,"t":"θ = 60°","c":"1"},{"L":0.76,"F":0.00328,"t":"θ = 60°","c":"1"},{"L":1.07,"F":0.0041,"t":"θ = 60°","c":"1"},{"L":1.38,"F":0.00538,"t":"θ = 60°","c":"1"},{"L":1.64,"F":0.00667,"t":"θ = 60°","c":"1"},{"L":1.82,"F":0.00712,"t":"θ = 60°","c":"1"},{"L":2.0,"F":0.00685,"t":"θ = 60°","c":"1"},{"L":2.22,"F":0.00584,"t":"θ = 60°","c":"1"},{"L":2.44,"F":0.00474,"t":"θ = 60°","c":"1"},{"L":2.71,"F":0.00364,"t":"θ = 60°","c":"1"},{"L":2.99,"F":0.00287,"t":"θ = 60°","c":"1"},{"L":3.26,"F":0.00268,"t":"θ = 60°","c":"1"},{"L":3.52,"F":0.00255,"t":"θ = 60°","c":"1"},{"L":3.79,"F":0.0025,"t":"θ = 60°","c":"1"},{"L":3.93,"F":0.00236,"t":"θ = 60°","c":"1"},{"L":4.1,"F":0.0018,"t":"θ = 60°","c":"1"},{"L":4.25,"F":0.0014,"t":"θ = 60°","c":"1"},{"L":4.4,"F":0.0012,"t":"θ = 60°","c":"1"},{"L":4.6,"F":0.0012,"t":"θ = 60°","c":"1"},{"L":4.8,"F":0.0009,"t":"θ = 60°","c":"1"},{"L":5.0,"F":0.0006,"t":"θ = 60°","c":"1"},{"L":5.3,"F":0.00035,"t":"θ = 60°","c":"1"},{"L":5.6,"F":0.0002,"t":"θ = 60°","c":"1"},{"L":6,"F":0.0001,"t":"θ = 60°","c":"1"},
{"L":0,"F":0.00016,"t":"θ = 60°","c":"2"},{"L":0.4,"F":0.00027,"t":"θ = 60°","c":"2"},{"L":0.8,"F":0.00045,"t":"θ = 60°","c":"2"},{"L":1.1,"F":0.0007,"t":"θ = 60°","c":"2"},{"L":1.4,"F":0.0011,"t":"θ = 60°","c":"2"},{"L":1.65,"F":0.0015,"t":"θ = 60°","c":"2"},{"L":1.91,"F":0.0018,"t":"θ = 60°","c":"2"},{"L":2.1,"F":0.00178,"t":"θ = 60°","c":"2"},{"L":2.4,"F":0.0016,"t":"θ = 60°","c":"2"},{"L":2.84,"F":0.00145,"t":"θ = 60°","c":"2"},{"L":3.2,"F":0.0016,"t":"θ = 60°","c":"2"},{"L":3.4,"F":0.0018,"t":"θ = 60°","c":"2"},{"L":3.6,"F":0.0021,"t":"θ = 60°","c":"2"},{"L":3.8,"F":0.0023,"t":"θ = 60°","c":"2"},{"L":3.92,"F":0.0023,"t":"θ = 60°","c":"2"},{"L":4.05,"F":0.002,"t":"θ = 60°","c":"2"},{"L":4.2,"F":0.0016,"t":"θ = 60°","c":"2"},{"L":4.4,"F":0.0011,"t":"θ = 60°","c":"2"},{"L":4.6,"F":0.0008,"t":"θ = 60°","c":"2"},{"L":4.75,"F":0.0008,"t":"θ = 60°","c":"2"},{"L":4.9,"F":0.0005,"t":"θ = 60°","c":"2"},{"L":5.1,"F":0.0003,"t":"θ = 60°","c":"2"},{"L":5.4,"F":0.00012,"t":"θ = 60°","c":"2"},{"L":5.7,"F":0.00005,"t":"θ = 60°","c":"2"},{"L":6,"F":0.00003,"t":"θ = 60°","c":"2"}
],
"annA":[
{"L":0.33,"F":0.1235,"s":"K","k":"K"},{"L":0.52,"F":0.121,"s":"fs","k":"sub"},{"L":0.66,"F":0.1185,"s":"1","k":"idx"},{"L":0.53,"F":0.1305,"s":"1","k":"idx"},
{"L":0.42,"F":0.0246,"s":"K","k":"K"},{"L":0.61,"F":0.022,"s":"fs","k":"sub"},{"L":0.75,"F":0.0195,"s":"2","k":"idx"},{"L":0.62,"F":0.0322,"s":"1","k":"idx"}
],
"annB":[
{"L":0.71,"F":0.0315,"s":"K","k":"K"},{"L":0.9,"F":0.0305,"s":"fp","k":"sub"}
],
"annC":[
{"L":2.69,"F":0.0043,"s":"K","k":"K"},{"L":2.92,"F":0.0042,"s":"fs","k":"sub"},{"L":3.06,"F":0.00405,"s":"1","k":"idx"},{"L":2.93,"F":0.00462,"s":"2","k":"idx"},
{"L":1.65,"F":0.00067,"s":"K","k":"K"},{"L":1.87,"F":0.00055,"s":"fs","k":"sub"},{"L":2.01,"F":0.0004,"s":"2","k":"idx"},{"L":1.88,"F":0.0009,"s":"2","k":"idx"}
]
},
"vconcat":[
{
 "width":449,"height":369,
 "title":{"text":"(a) Wave force on submerged structure","orient":"bottom","anchor":"middle","offset":2},
 "encoding":{
  "x":{"field":"L","type":"quantitative","scale":{"domain":[0,6],"nice":false},"axis":{"values":[0,1,2,3,4,5,6],"title":"L/h","titleFontStyle":"italic","titlePadding":2}},
  "y":{"field":"F","type":"quantitative","scale":{"domain":[0,0.24],"nice":false},"axis":{"values":[0.04,0.08,0.12,0.16,0.2,0.24],"format":".2f","title":"Wave force on the submerged structure","titleX":-62,"titleBaseline":"middle"}}
 },
 "layer":[
  {"data":{"name":"a"},"mark":{"type":"line","strokeWidth":3.6,"interpolate":"monotone","clip":true},"encoding":{
    "color":{"field":"t","type":"nominal","scale":{"domain":["θ = 0°","θ = 30°","θ = 45°","θ = 60°"],"range":["#000000","#ee2a24","#2b5cb8","#3a8c3f"]},
      "legend":{"title":null,"legendX":229,"legendY":2.5,"symbolType":"M-2.1,0H2.1M-0.2,-0.2H0.2V0.2H-0.2Z","labelFont":"Liberation Serif","labelFontSize":20,"symbolStrokeWidth":1.8}},
    "detail":{"field":"c"}}},
  {"data":{"name":"annA"},"transform":[{"filter":"datum.k === 'K'"}],"mark":{"type":"text","align":"left","baseline":"alphabetic","font":"Liberation Serif","fontStyle":"italic","fontSize":21,"color":"#231f20"},"encoding":{"text":{"field":"s"}}},
  {"data":{"name":"annA"},"transform":[{"filter":"datum.k === 'sub'"}],"mark":{"type":"text","align":"left","baseline":"alphabetic","font":"Liberation Serif","fontSize":14,"color":"#231f20"},"encoding":{"text":{"field":"s"}}},
  {"data":{"name":"annA"},"transform":[{"filter":"datum.k === 'idx'"}],"mark":{"type":"text","align":"left","baseline":"alphabetic","font":"Liberation Serif","fontSize":9,"color":"#231f20"},"encoding":{"text":{"field":"s"}}}
 ]
},
{
 "width":449,"height":366,
 "title":{"text":"(b) Wave force on the plate","orient":"bottom","anchor":"middle","offset":2},
 "encoding":{
  "x":{"field":"L","type":"quantitative","scale":{"domain":[0,6],"nice":false},"axis":{"values":[0,1,2,3,4,5,6],"title":"L/h","titleFontStyle":"italic","titlePadding":2}},
  "y":{"field":"F","type":"quantitative","scale":{"domain":[0,0.05],"nice":false},"axis":{"values":[0.01,0.02,0.03,0.04,0.05],"format":".2f","title":"Wave force on the plate","titleX":-72,"titleBaseline":"middle"}}
 },
 "layer":[
  {"data":{"name":"b"},"mark":{"type":"line","strokeWidth":3.6,"interpolate":"monotone","clip":true},"encoding":{
    "color":{"field":"t","type":"nominal","scale":{"domain":["θ = 0°","θ = 30°","θ = 45°","θ = 60°"],"range":["#000000","#ee2a24","#2b5cb8","#3a8c3f"]},
      "legend":{"title":null,"legendX":312,"legendY":28.5,"symbolType":"M-2.1,0H2.1M-0.2,-0.2H0.2V0.2H-0.2Z","labelFont":"Liberation Serif","labelFontSize":20,"symbolStrokeWidth":1.8}}}},
  {"data":{"name":"annB"},"transform":[{"filter":"datum.k === 'K'"}],"mark":{"type":"text","align":"left","baseline":"alphabetic","font":"Liberation Serif","fontStyle":"italic","fontSize":21,"color":"#231f20"},"encoding":{"text":{"field":"s"}}},
  {"data":{"name":"annB"},"transform":[{"filter":"datum.k === 'sub'"}],"mark":{"type":"text","align":"left","baseline":"alphabetic","font":"Liberation Serif","fontSize":14,"color":"#231f20"},"encoding":{"text":{"field":"s"}}}
 ]
},
{
 "width":446,"height":364,
 "title":{"text":"(c) Wave force on the fully-extended structure","orient":"bottom","anchor":"middle","offset":2},
 "encoding":{
  "x":{"field":"L","type":"quantitative","scale":{"domain":[0,6],"nice":false},"axis":{"values":[0,1,2,3,4,5,6],"title":"L/h","titleFontStyle":"italic","titlePadding":2}},
  "y":{"field":"F","type":"quantitative","scale":{"domain":[0,0.01],"nice":false},"axis":{"values":[0.002,0.004,0.006,0.008,0.01],"format":".3f","title":"Wave force on the fully-extended structure","titleX":-72.5,"titleBaseline":"middle"}}
 },
 "layer":[
  {"data":{"name":"c"},"mark":{"type":"line","strokeWidth":3.6,"interpolate":"monotone","clip":true},"encoding":{
    "color":{"field":"t","type":"nominal","scale":{"domain":["θ = 0°","θ = 30°","θ = 45°","θ = 60°"],"range":["#000000","#ee2a24","#2b5cb8","#3a8c3f"]},
      "legend":{"title":null,"legendX":338,"legendY":96,"symbolType":"M-2.1,0H2.1M-0.2,-0.2H0.2V0.2H-0.2Z","labelFont":"Liberation Serif","labelFontSize":20,"symbolStrokeWidth":1.8}},
    "detail":{"field":"c"}}},
  {"data":{"name":"annC"},"transform":[{"filter":"datum.k === 'K'"}],"mark":{"type":"text","align":"left","baseline":"alphabetic","font":"Liberation Serif","fontStyle":"italic","fontSize":21,"color":"#231f20"},"encoding":{"text":{"field":"s"}}},
  {"data":{"name":"annC"},"transform":[{"filter":"datum.k === 'sub'"}],"mark":{"type":"text","align":"left","baseline":"alphabetic","font":"Liberation Serif","fontSize":14,"color":"#231f20"},"encoding":{"text":{"field":"s"}}},
  {"data":{"name":"annC"},"transform":[{"filter":"datum.k === 'idx'"}],"mark":{"type":"text","align":"left","baseline":"alphabetic","font":"Liberation Serif","fontSize":9,"color":"#231f20"},"encoding":{"text":{"field":"s"}}}
 ]
}
]
}
